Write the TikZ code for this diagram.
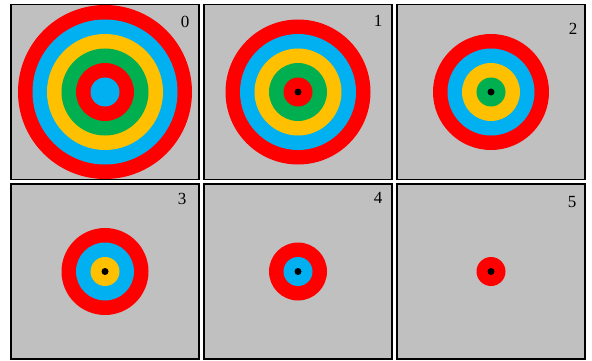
\documentclass[tikz,border=0pt]{standalone}
\usepackage{fontspec}
\setmainfont{Liberation Serif}
\usepackage{xcolor}
\usepackage{tikz}
\definecolor{panelgray}{HTML}{C0C0C0}
\definecolor{tgtred}{HTML}{FF0000}
\definecolor{tgtblue}{HTML}{00B0F0}
\definecolor{tgtyellow}{HTML}{FFC000}
\definecolor{tgtgreen}{HTML}{00B050}
% ring colours from the outside in
\colorlet{ring1}{tgtred}
\colorlet{ring2}{tgtblue}
\colorlet{ring3}{tgtyellow}
\colorlet{ring4}{tgtgreen}
\colorlet{ring5}{tgtred}
\colorlet{ring6}{tgtblue}
\tikzset{
  panel/.style={draw=black, line width=1.6pt, fill=panelgray, inner sep=0pt,
                minimum width=188pt, minimum height=175pt},
  ring/.style={circle, inner sep=0pt, draw=none},
  bullseye/.style={circle, fill=black, inner sep=0pt, minimum size=7pt},
  panellabel/.style={font=\fontsize{17}{17}\selectfont, inner sep=0pt}
}

\begin{document}
\begin{tikzpicture}[x=1pt, y=-1pt]
\useasboundingbox (0,0) rectangle (592,361);

% Panels, rings and labels
\foreach \k/\cx/\cy/\lx/\ly in {0/105/92/185/22, 1/298/92/378/21, 2/491/92/573/29,
                               3/105/271.5/182/199, 4/298/271.5/378/198, 5/491/271.5/572/202} {
  \node[panel] (p\k) at (\cx,\cy) {};
  \pgfmathtruncatemacro\n{6-\k}
  \foreach \i in {1,...,\n} {
    \pgfmathsetmacro\d{29*(\n-\i+1)}
    \node[ring, fill=ring\i, minimum size=\d pt] (r\k\i) at (p\k.center) {};
  }
  \ifnum\k>0
    \node[bullseye] (d\k) at (p\k.center) {};
  \fi
  \node[panellabel] (l\k) at (\lx,\ly) {\k};
}

\end{tikzpicture}
\end{document}
